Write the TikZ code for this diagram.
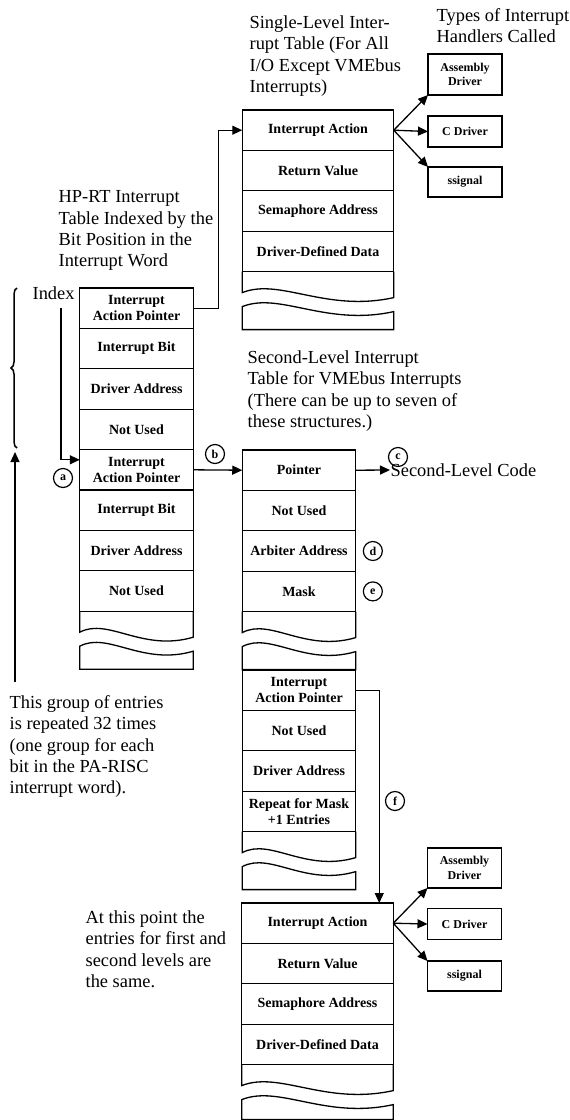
\documentclass[tikz,border=0pt]{standalone}
\usepackage{fontspec}
\setmainfont{Liberation Serif}
\usepackage{tikz}
\usetikzlibrary{arrows.meta,positioning,calc,decorations.pathreplacing}

% torn-off end hung below the last row of a table: #1 last row, #2 width, #3 height
\newcommand{\tablebreak}[3]{%
  \draw (#1.south west) -- ++(0,21) .. controls +({0.25*#2},-15) and +({-0.45*#2},15) .. ++(#2,5) -- (#1.south east);
  \draw (#1.south west) ++(0,35) .. controls +({0.25*#2},-15) and +({-0.45*#2},15) .. ++(#2,5) |- ($(#1.south west)+(0,#3)$) -- cycle;
}

\begin{document}
\begin{tikzpicture}[x=1pt, y=-1pt, line width=1.3pt,
    cell/.style={draw, outer sep=0pt, inner sep=1pt, align=center, minimum height=40.4,
      font=\fontsize{14}{16}\selectfont\bfseries},
    narrow/.style={cell, minimum width=113.5},
    wide/.style={cell, minimum width=151.5},
    handler/.style={draw, outer sep=0pt, inner sep=1pt, align=center, minimum width=74,
      font=\fontsize{12}{14.5}\selectfont\bfseries},
    tag/.style={circle, draw, line width=1.2pt, inner sep=0pt, minimum size=19,
      font=\fontsize{12}{12}\selectfont\bfseries},
    caption/.style={anchor=north west, align=left, inner sep=0pt,
      font=\fontsize{18.4}{21.3}\selectfont},
    arr/.style={-{Triangle[length=10pt,width=9pt]}}]
    \useasboundingbox (0,0) rectangle (570,1120);

    % HP-RT interrupt table, two groups of entries
    \foreach \txt [count=\i] in {{Interrupt\\Action Pointer}, Interrupt Bit, Driver Address, Not Used,
        {Interrupt\\Action Pointer}, Interrupt Bit, Driver Address, Not Used}
        \node[narrow] (L\i) at (136.5, 288+40.4*\i-20.2) {\txt};
    \tablebreak{L8}{113.5}{58}

    % Single-level table
    \foreach \txt [count=\i] in {Interrupt Action, Return Value, Semaphore Address, Driver-Defined Data}
        \node[wide] (T\i) at (318, 110+40.4*\i-20.2) {\txt};
    \tablebreak{T4}{151.5}{58}

    % Second-level table
    \foreach \txt [count=\i] in {Pointer, Not Used, Arbiter Address, Mask}
        \node[narrow] (M\i) at (299, 450+40.4*\i-20.2) {\txt};
    \tablebreak{M4}{113.5}{58}
    \foreach \txt [count=\i] in {{Interrupt\\Action Pointer}, Not Used, Driver Address, {Repeat for Mask\\+1 Entries}}
        \node[narrow] (N\i) at (299, 670+40.4*\i-20.2) {\txt};
    \tablebreak{N4}{113.5}{58}

    % Entries common to both levels
    \foreach \txt [count=\i] in {Interrupt Action, Return Value, Semaphore Address, Driver-Defined Data}
        \node[wide] (B\i) at (317.5, 903+40.4*\i-20.2) {\txt};
    \tablebreak{B4}{151.5}{55}

    % Handlers
    \node[handler, minimum height=41] (h1) at (465,74.5) {Assembly\\Driver};
    \node[handler, minimum height=31] (h2) at (465,131.5) {C Driver};
    \node[handler, minimum height=30] (h3) at (465,182) {ssignal};
    \node[handler, minimum height=40] (g1) at (464.5,868) {Assembly\\Driver};
    \node[handler, minimum height=31] (g2) at (464.5,924) {C Driver};
    \node[handler, minimum height=30] (g3) at (464.5,976) {ssignal};

    % Captions
    \node[caption] (single) at (249,15) {Single-Level Inter-\\rupt Table (For All\\I/O Except VMEbus\\Interrupts)};
    \node[caption] (types) at (436,8) {Types of Interrupt\\Handlers Called};
    \node[caption] (hprt) at (58,190) {HP-RT Interrupt\\Table Indexed by the\\Bit Position in the\\Interrupt Word};
    \node[caption] (second) at (247,350) {Second-Level Interrupt\\Table for VMEbus Interrupts\\(There can be up to seven of\\these structures.)};
    \node[caption] (group) at (9,695) {This group of entries\\is repeated 32 times\\(one group for each\\bit in the PA-RISC\\interrupt word).};
    \node[caption] (same) at (85,910) {At this point the\\entries for first and\\second levels are\\the same.};
    \node[caption, anchor=west] (index) at (32,293) {Index};
    \node[caption, anchor=west] (code) at (390,470) {Second-Level Code};

    % Pointers between tables
    \draw[arr] (L1.east) -- ++(25,0) |- (T1.west);
    \draw[arr] ([xshift=7.5pt,yshift=-8pt]index.south) |- ([yshift=10pt]L5.west);
    \draw[arr] (L5.east) -- (M1.west);
    \draw[arr] (M1.east) -- (code.west);
    \draw[arr] (N1.east) -| ([xshift=-14pt]B1.north east);
    \foreach \h/\a in {h1/south west, h2/west, h3/north west}
        \draw[arr] (T1.east) -- (\h.\a);
    \foreach \g/\a in {g1/south west, g2/west, g3/north west}
        \draw[arr] (B1.east) -- (\g.\a);

    % Callouts
    \node[tag] (ta) at (63,478) {a};
    \node[tag] (tb) at (215,454) {b};
    \node[tag] (tc) at (398,457) {c};
    \node[tag, right=7pt of M3] (td) {d};
    \node[tag, right=7pt of M4] (te) {e};
    \node[tag] (tf) at (395,801) {f};

    % Group brace and repeat arrow
    \draw[line width=1.5pt, decorate, decoration={brace, amplitude=6pt}] (17,448) -- (17,288);
    \coordinate (grpend) at (15,682);
    \coordinate (grptop) at (15,452);
    \draw[arr] (grpend) -- (grptop);
\end{tikzpicture}
\end{document}
